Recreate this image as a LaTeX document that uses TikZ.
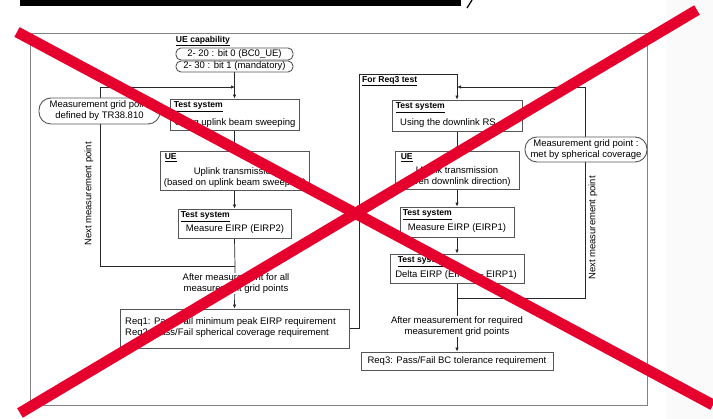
\documentclass[tikz,border=0pt]{standalone}
\usepackage{fontspec}
\setmainfont{Liberation Sans}
\usetikzlibrary{arrows.meta,backgrounds}
\definecolor{xred}{RGB}{230,0,45}
\definecolor{boxgray}{RGB}{85,85,85}
\definecolor{framegray}{RGB}{130,130,130}
\begin{document}
\begin{tikzpicture}[x=1pt,y=-1pt,
  box/.style={draw=boxgray,line width=0.9pt,fill=white,inner sep=0pt},
  pill/.style={box,rounded corners=5pt},
  bubble/.style={box,rounded corners=12pt},
  body/.style={font=\fontsize{9.5}{11}\selectfont,inner sep=0pt,align=center},
  title/.style={font=\fontsize{8.6}{10}\selectfont\bfseries,inner sep=0pt,anchor=north west},
  conn/.style={draw=black!85,line width=0.7pt},
  arr/.style={conn,-{Latex[length=4pt,width=3.4pt]}},
  frame/.style={draw=framegray,line width=0.8pt},
  cross/.style={draw=xred,line width=11pt}]
\useasboundingbox (0,0) rectangle (713,419);
\begin{scope}[on background layer]
  % page background
  \fill[white] (0,0) rectangle (713,419);
  \fill[black!2] (667,0) rectangle (713,419);
  % cropped title bar
  \fill[black] (20,0) rectangle (461,6);
  \draw[line width=1.3pt] (472,0) -- (467,8);
  % outer frame
  \draw[frame] (30,33) rectangle (647,405);
\end{scope}

% ---------- left column ----------
\node[title,anchor=center] (cap) at (203,41) {\underline{UE capability}};
\node[pill,body,minimum width=117pt,minimum height=12pt] (p1) at (234.5,54) {2- 20 : bit 0 (BC0\_UE)};
\node[pill,body,minimum width=117pt,minimum height=11pt] (p2) at (234.5,66.5) {2- 30 : bit 1 (mandatory)};

\node[box,minimum width=129pt,minimum height=31pt] (ts1) at (234.5,114.5) {};
\node[title] (ts1h) at ([shift={(4,3)}]ts1.north west) {\underline{Test system}};
\node[body] (ts1b) at (235,123) {Using uplink beam sweeping};

\node[bubble,body,minimum width=121pt,minimum height=26pt] (bub1) at (99.5,111) {Measurement grid point\\defined by TR38.810};

\node[box,minimum width=149pt,minimum height=39pt] (ue1) at (234.5,170.5) {};
\node[title] (ue1h) at ([shift={(5,3)}]ue1.north west) {\underline{UE}};
\node[body] (ue1b) at (235,177.5) {Uplink transmission\\(based on uplink beam sweeping)};

\node[box,minimum width=113pt,minimum height=29pt] (ts2) at (234.5,223.5) {};
\node[title] (ts2h) at ([shift={(3,3)}]ts2.north west) {\underline{Test system}};
\node[body] (ts2b) at (235,229) {Measure EIRP (EIRP2)};

\node[body,rotate=90] (nm1) at (89,194) {Next measurement point};
\node[body,fill=white,inner sep=1pt] (aft1) at (236,283.5) {After measurement for all\\measurement grid points};

\node[box,minimum width=229pt,minimum height=39pt] (req12) at (234.5,328.5) {};
\node[body,anchor=west,align=left] (req12t) at (125,328) {Req1: Pass/Fail minimum peak EIRP requirement\\Req2: Pass/Fail spherical coverage requirement};

\coordinate (jl) at (235,87);
\coordinate (jb) at (235,266);

% ---------- right column ----------
\node[title] (rq3h) at (362,76) {\underline{For Req3 test}};

\node[box,minimum width=130pt,minimum height=31pt] (tsR1) at (457,115.5) {};
\node[title] (tsR1h) at ([shift={(4,3)}]tsR1.north west) {\underline{Test system}};
\node[body,anchor=west] (tsR1b) at (400,123) {Using the downlink RS};

\node[bubble,body,minimum width=122pt,minimum height=25pt] (bubR) at (586,149.5) {Measurement grid point :\\met by spherical coverage};

\node[box,minimum width=124pt,minimum height=38pt] (ueR) at (457,170) {};
\node[title] (ueRh) at ([shift={(6,3)}]ueR.north west) {\underline{UE}};
\node[body] (ueRb) at (457,176.5) {Uplink transmission\\(given downlink direction)};

\node[box,minimum width=114pt,minimum height=30pt] (tsR2) at (457,222) {};
\node[title] (tsR2h) at ([shift={(3,3)}]tsR2.north west) {\underline{Test system}};
\node[body] (tsR2b) at (457,228.5) {Measure EIRP (EIRP1)};

\node[box,minimum width=134pt,minimum height=29pt] (tsR3) at (457,268.5) {};
\node[title] (tsR3h) at ([shift={(8,3)}]tsR3.north west) {\underline{Test system}};
\node[body] (tsR3b) at (456,275) {Delta EIRP (EIRP2 -- EIRP1)};

\node[body,rotate=90] (nm2) at (593,228) {Next measurement point};
\node[body,fill=white,inner sep=1pt] (aftR) at (457,326.5) {After measurement for required\\measurement grid points};

\node[box,body,minimum width=192pt,minimum height=18pt] (req3) at (457,361) {Req3: Pass/Fail BC tolerance requirement};

\coordinate (jrt) at (457,87);
\coordinate (jrb) at (457,298);

% ---------- connectors (drawn behind the nodes) ----------
\begin{scope}[on background layer]
  \draw[arr] (p2.south) -- (ts1.north);
  \draw[arr] (ts1.south) -- (ue1.north);
  \draw[arr] (ue1.south) -- (ts2.north);
  \draw[conn] (ts2.south) -- (jb);
  \draw[arr] (jb) -- (100,266) -- (100,87) -- (jl);
  \draw[arr] (jb) -- (req12.north);
  \draw[arr] (req12.east) -- (359,328.5) -- (359,74) -- (457,74) -- (tsR1.north);
  \draw[arr] (tsR1.south) -- (ueR.north);
  \draw[arr] (ueR.south) -- (tsR2.north);
  \draw[arr] (tsR2.south) -- (tsR3.north);
  \draw[conn] (tsR3.south) -- (jrb);
  \draw[arr] (jrb) -- (585,298) -- (585,87) -- (jrt);
  \draw[arr] (jrb) -- (req3.north);
\end{scope}

% ---------- red cross ----------
\draw[cross] (17,32) -- (713,405);
\draw[cross] (697,10) -- (20,413);
\end{tikzpicture}
\end{document}
